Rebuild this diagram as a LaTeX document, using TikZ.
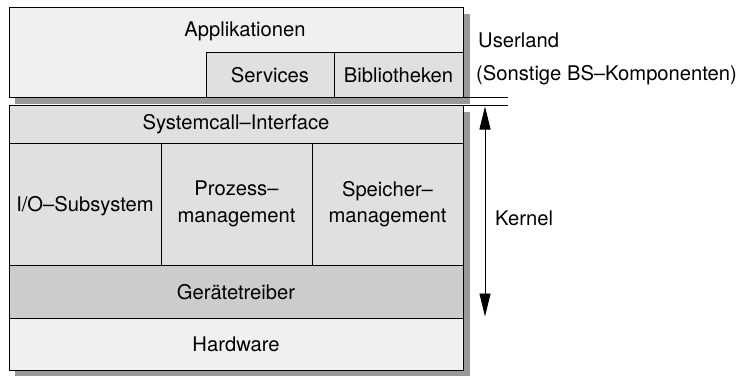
\documentclass[tikz,border=0pt]{standalone}
\usepackage{fontspec}
\setmainfont{TeX Gyre Heros}
\usetikzlibrary{arrows.meta}
\definecolor{shadowgray}{HTML}{999999}
\definecolor{lightfill}{HTML}{F0F0F0}
\definecolor{midfill}{HTML}{E0E0E0}
\definecolor{darkfill}{HTML}{CCCCCC}
\tikzset{
  layer/.style={draw=black, line width=0.9pt},
  lbl/.style={font=\fontsize{20.2}{26.5}\selectfont, inner sep=0pt, align=center},
  side/.style={font=\fontsize{20.2}{26.5}\selectfont, inner sep=0pt, anchor=west},
}
\begin{document}
\begin{tikzpicture}[x=1pt,y=-1pt]
\useasboundingbox (0,0) rectangle (743,375);
% shadows
\fill[shadowgray] (15,14) rectangle (469.5,104);
\fill[shadowgray] (15,111.5) rectangle (469.5,376);
% userland box
\draw[layer, fill=lightfill] (9,7.5) rectangle (463,97.5);
\draw[layer, fill=midfill] (206,52) rectangle (334,97.5);
\draw[layer, fill=midfill] (334,52) rectangle (463,97.5);
% kernel layers
\draw[layer, fill=midfill] (9,105.5) rectangle (463,143);
\draw[layer, fill=midfill] (9,143) rectangle (161,265);
\draw[layer, fill=midfill] (161,143) rectangle (312,265);
\draw[layer, fill=midfill] (312,143) rectangle (463,265);
\draw[layer, fill=darkfill] (9,265) rectangle (463,318);
\draw[layer, fill=lightfill] (9,318) rectangle (463,370);
% separator lines
\coordinate (l1a) at (9,97.5);
\coordinate (l1b) at (508,97.5);
\coordinate (l2a) at (9,105.5);
\coordinate (l2b) at (508,105.5);
\draw[line width=0.9pt] (l1a) -- (l1b);
\draw[line width=0.9pt] (l2a) -- (l2b);
% labels
\node[lbl] (app) at (245,31) {Applikationen};
\node[lbl] (serv) at (270,75) {Services};
\node[lbl] (bib) at (398.5,75) {Bibliotheken};
\node[lbl] (sys) at (236,124) {Systemcall--Interface};
\node[lbl] (io) at (85,206) {I/O--Subsystem};
\node[lbl] (proz) at (236.5,204) {Prozess--\\management};
\node[lbl] (speich) at (387.5,204) {Speicher--\\management};
\node[lbl] (geraet) at (236,292) {Gerätetreiber};
\node[lbl] (hw) at (236,344) {Hardware};
\node[side] (user) at (478,40) {Userland};
\node[side] (sonst) at (476,75) {(Sonstige BS--Komponenten)};
\node[side] (kern) at (495,218) {Kernel};
% arrow
\coordinate (atop) at (485,106.5);
\coordinate (abot) at (485,316.5);
\draw[line width=0.9pt, {Triangle[length=23pt,width=11pt]}-{Triangle[length=23pt,width=11pt]}] (atop) -- (abot);
\end{tikzpicture}
\end{document}
